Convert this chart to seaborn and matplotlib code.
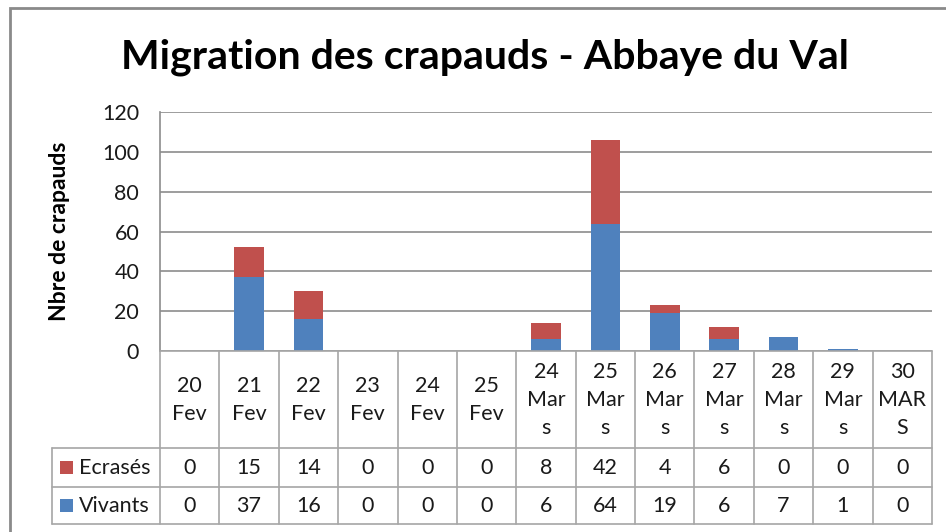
import matplotlib
matplotlib.use("Agg")
import matplotlib.pyplot as plt
from matplotlib.lines import Line2D
from matplotlib.patches import Rectangle
import seaborn as sns
import pandas as pd

# ---- data ----
categories = ["20\nFev", "21\nFev", "22\nFev", "23\nFev", "24\nFev", "25\nFev",
              "24\nMar\ns", "25\nMar\ns", "26\nMar\ns", "27\nMar\ns", "28\nMar\ns",
              "29\nMar\ns", "30\nMAR\nS"]
ecrases = [0, 15, 14, 0, 0, 0, 8, 42, 4, 6, 0, 0, 0]
vivants = [0, 37, 16, 0, 0, 0, 6, 64, 19, 6, 7, 1, 0]
series_names = ["Ecrasés", "Vivants"]
yticks = [0, 20, 40, 60, 80, 100, 120]
title = "Migration des crapauds - Abbaye du Val"
ylabel = "Nbre de crapauds"

RED = "#C0504D"
BLUE = "#4F81BD"
GRID = "#8c8c8c"
TAB = "#a6a6a6"
TXT = "#1a1a1a"

sns.set_theme(style="white")
plt.rcParams["font.family"] = ["Lato", "DejaVu Sans"]

W, H = 946, 532
fig = plt.figure(figsize=(W / 100, H / 100), dpi=100)
fig.patch.set_facecolor("white")

def fx(p):
    return p / W

def fy(p):
    return 1 - p / H

x0, x1 = 160, 932
y_top, y_zero = 112, 351
ax = fig.add_axes([fx(x0), fy(y_zero), fx(x1) - fx(x0), fy(y_top) - fy(y_zero)])

df = pd.DataFrame({"cat": categories, "ecrases": ecrases, "vivants": vivants})
df["total"] = df["ecrases"] + df["vivants"]

sns.barplot(data=df, x="cat", y="total", order=categories, color=RED,
            width=0.5, saturation=1, ax=ax, linewidth=0)
sns.barplot(data=df, x="cat", y="vivants", order=categories, color=BLUE,
            width=0.5, saturation=1, ax=ax, linewidth=0)

ax.set_xlim(-0.5, len(categories) - 0.5)
ax.set_ylim(0, 120)
ax.set_yticks(yticks)
ax.set_yticklabels([str(v) for v in yticks], fontsize=15.5, color=TXT)
ax.set_xticks([])
ax.set_xlabel("")
ax.set_ylabel("")
ax.tick_params(axis="y", length=0, pad=15)
ax.yaxis.grid(True, color=GRID, linewidth=1.2)
ax.set_axisbelow(True)
for s in ["top", "right", "bottom"]:
    ax.spines[s].set_visible(False)
ax.spines["left"].set_color(GRID)
ax.spines["left"].set_linewidth(1.2)

# ---- title & y-label ----
fig.text(fx(485), fy(57), title, ha="center", va="center", fontsize=29.5,
         fontweight="bold", color="black")
fig.text(fx(60), fy(231), ylabel, ha="center", va="center", rotation=90,
         fontsize=16.5, fontweight="bold", color="black")

# ---- data table ----
n = len(categories)
cw = (x1 - x0) / n
r0, r1, r2, r3 = 351, 448, 487, 524
lx = 52

def hline(xa, xb, y):
    fig.add_artist(Line2D([fx(xa), fx(xb)], [fy(y), fy(y)], color=TAB, lw=1.2))

def vline(x, ya, yb):
    fig.add_artist(Line2D([fx(x), fx(x)], [fy(ya), fy(yb)], color=TAB, lw=1.2))

hline(x0, x1, r0)
hline(lx, x1, r1)
hline(lx, x1, r2)
hline(lx, x1, r3)
for i in range(n + 1):
    vline(x0 + i * cw, r0, r3)
vline(lx, r1, r3)

for i, lab in enumerate(categories):
    cx = x0 + (i + 0.5) * cw
    fig.text(fx(cx), fy((r0 + r1) / 2 + 1), lab, ha="center", va="center",
             fontsize=15.5, color=TXT, linespacing=1.5, multialignment="center")
    fig.text(fx(cx), fy((r1 + r2) / 2), str(ecrases[i]), ha="center", va="center",
             fontsize=15.5, color=TXT)
    fig.text(fx(cx), fy((r2 + r3) / 2), str(vivants[i]), ha="center", va="center",
             fontsize=15.5, color=TXT)

for (yc, col, name) in [((r1 + r2) / 2, RED, series_names[0]),
                        ((r2 + r3) / 2, BLUE, series_names[1])]:
    fig.add_artist(Rectangle((fx(60), fy(yc + 6.5)), fx(13), 13 / H,
                             facecolor=col, edgecolor="none", transform=fig.transFigure))
    fig.text(fx(79), fy(yc), name, ha="left", va="center", fontsize=15.5, color=TXT)

# ---- chart border ----
fig.add_artist(Rectangle((fx(10), fy(560)), fx(970), (560 - 8) / H, facecolor="none",
                         edgecolor="#8a8a8a", lw=2, transform=fig.transFigure))

fig.savefig("out.png", dpi=100, facecolor="white")
